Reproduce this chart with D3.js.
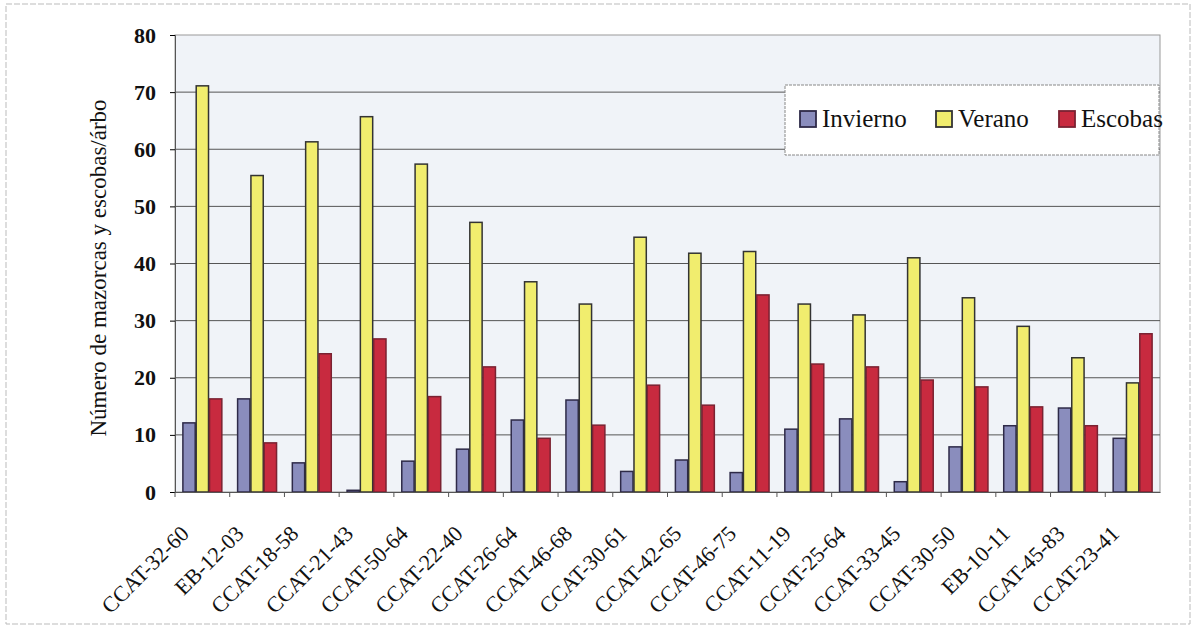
<!DOCTYPE html>
<html>
<head>
  <style>
  body {
    margin: 0;
    background: #fff;
  }
  svg text {
    font-family: "Liberation Serif", "DejaVu Serif", serif;
  }
  .axis .domain {
    stroke: #555;
  }
  .axis text {
    font-family: "Liberation Serif", "DejaVu Serif", serif;
    fill: #111;
  }
  </style>
</head>
<body>
  <div id="chart"></div>
  <script src="https://d3js.org/d3.v7.min.js"></script>
  <script>
  var categories = ["CCAT-32-60", "EB-12-03", "CCAT-18-58", "CCAT-21-43", "CCAT-50-64", "CCAT-22-40",
    "CCAT-26-64", "CCAT-46-68", "CCAT-30-61", "CCAT-42-65", "CCAT-46-75", "CCAT-11-19",
    "CCAT-25-64", "CCAT-33-45", "CCAT-30-50", "EB-10-11", "CCAT-45-83", "CCAT-23-41"];
  var invierno = [12.1, 16.3, 5.1, 0.3, 5.4, 7.5, 12.6, 16.1, 3.6, 5.6, 3.4, 11.0, 12.8, 1.8, 7.9, 11.6, 14.7, 9.4];
  var verano = [71.1, 55.4, 61.3, 65.7, 57.4, 47.2, 36.8, 32.9, 44.6, 41.8, 42.1, 32.9, 31.0, 41.0, 34.0, 29.0, 23.5, 19.1];
  var escobas = [16.3, 8.6, 24.2, 26.8, 16.7, 21.9, 9.4, 11.7, 18.7, 15.2, 34.5, 22.4, 21.9, 19.6, 18.4, 14.9, 11.6, 27.7];
  var seriesNames = ["Invierno", "Verano", "Escobas"];
  var yTicks = [0, 10, 20, 30, 40, 50, 60, 70, 80];

  var fills = {Invierno: "#8a8dbd", Verano: "#f1ed6e", Escobas: "#c82a3f"};
  var strokes = {Invierno: "#2e2a48", Verano: "#333", Escobas: "#7a2232"};

  var W = 1196, H = 628;
  var margin = {top: 35, left: 175, right: 36, bottom: 136};
  var width = W - margin.left - margin.right, height = H - margin.top - margin.bottom;

  var svg = d3.select("#chart").append("svg")
      .attr("width", W)
      .attr("height", H);

  // outer frame
  svg.append("rect")
      .attr("x", 6).attr("y", 4)
      .attr("width", W - 12).attr("height", H - 8)
      .attr("fill", "none")
      .attr("stroke", "#bbb")
      .attr("stroke-dasharray", "6,2");

  var g = svg.append("g")
      .attr("transform", "translate(" + margin.left + "," + margin.top + ")");

  var x0 = d3.scaleBand()
    .domain(categories)
    .range([0, width])
    .paddingInner(0.27)
    .paddingOuter(0.135);

  var x1 = d3.scaleBand()
    .domain(seriesNames)
    .range([0, x0.bandwidth()]);

  var y = d3.scaleLinear()
    .domain([0, 80])
    .range([height, 0]);

  // plot background
  g.append("rect")
      .attr("width", width)
      .attr("height", height)
      .attr("fill", "#f0f3f8")
      .attr("stroke", "#999");

  // grid lines
  g.selectAll("line.grid")
      .data(yTicks.filter(function(d){ return d > 0 && d < 80; }))
    .enter().append("line")
      .attr("class", "grid")
      .attr("x1", 0).attr("x2", width)
      .attr("y1", function(d){ return y(d); })
      .attr("y2", function(d){ return y(d); })
      .attr("stroke", "#555")
      .attr("stroke-width", 1);

  var rows = categories.map(function(c, i){
    return {cat: c, values: [
      {key: "Invierno", value: invierno[i]},
      {key: "Verano", value: verano[i]},
      {key: "Escobas", value: escobas[i]}
    ]};
  });

  var groups = g.selectAll("g.group")
      .data(rows)
    .enter().append("g")
      .attr("class", "group")
      .attr("transform", function(d){ return "translate(" + x0(d.cat) + ",0)"; });

  groups.selectAll("rect")
      .data(function(d){ return d.values; })
    .enter().append("rect")
      .attr("x", function(d){ return x1(d.key) + 0.5; })
      .attr("y", function(d){ return y(d.value); })
      .attr("width", x1.bandwidth() - 1)
      .attr("height", function(d){ return height - y(d.value); })
      .attr("fill", function(d){ return fills[d.key]; })
      .attr("stroke", function(d){ return strokes[d.key]; })
      .attr("stroke-width", 1.5);

  // y axis
  var yAxis = g.append("g")
      .attr("class", "axis")
      .call(d3.axisLeft(y).tickValues(yTicks).tickSize(5).tickPadding(14));
  yAxis.selectAll("text")
      .style("font-size", "22px")
      .style("font-weight", "bold")
      .attr("dy", "0.32em");

  // x axis: ticks between categories
  var xAxis = g.append("g")
      .attr("class", "axis")
      .attr("transform", "translate(0," + height + ")")
      .call(d3.axisBottom(x0).tickSize(0).tickPadding(0));
  xAxis.selectAll(".tick text").remove();
  xAxis.selectAll("line.sep")
      .data(categories)
    .enter().append("line")
      .attr("class", "sep")
      .attr("x1", function(d){ return x0(d) - x0.step() * x0.paddingInner() / 2; })
      .attr("x2", function(d){ return x0(d) - x0.step() * x0.paddingInner() / 2; })
      .attr("y1", 0).attr("y2", 5)
      .attr("stroke", "#555");

  // rotated category labels
  g.selectAll("text.cat")
      .data(categories)
    .enter().append("text")
      .attr("class", "cat")
      .attr("transform", function(d){
        var cx = x0(d) + x0.bandwidth() / 2;
        return "translate(" + (cx - 12) + "," + (height + 43) + ") rotate(-45)";
      })
      .attr("text-anchor", "end")
      .style("font-size", "22px")
      .attr("fill", "#111")
      .text(function(d){ return d; });

  // y axis title
  svg.append("text")
      .attr("transform", "translate(106,268) rotate(-90)")
      .attr("text-anchor", "middle")
      .style("font-size", "23px")
      .attr("fill", "#111")
      .text("Número de mazorcas y escobas/árbo");

  // legend
  var legend = svg.append("g")
      .attr("transform", "translate(785,85)");
  legend.append("rect")
      .attr("width", 374)
      .attr("height", 70)
      .attr("fill", "#fff")
      .attr("stroke", "#888")
      .attr("stroke-dasharray", "3,1");

  var legendX = [15, 151, 274];
  var items = legend.selectAll("g.item")
      .data(seriesNames)
    .enter().append("g")
      .attr("class", "item")
      .attr("transform", function(d, i){ return "translate(" + legendX[i] + ",34)"; });
  items.append("rect")
      .attr("x", 0).attr("y", -8)
      .attr("width", 16).attr("height", 16)
      .attr("fill", function(d){ return fills[d]; })
      .attr("stroke", function(d){ return strokes[d]; })
      .attr("stroke-width", 1.8);
  items.append("text")
      .attr("x", 22)
      .attr("dy", "0.33em")
      .style("font-size", "25px")
      .attr("fill", "#111")
      .text(function(d){ return d; });
  </script>
</body>
</html>
